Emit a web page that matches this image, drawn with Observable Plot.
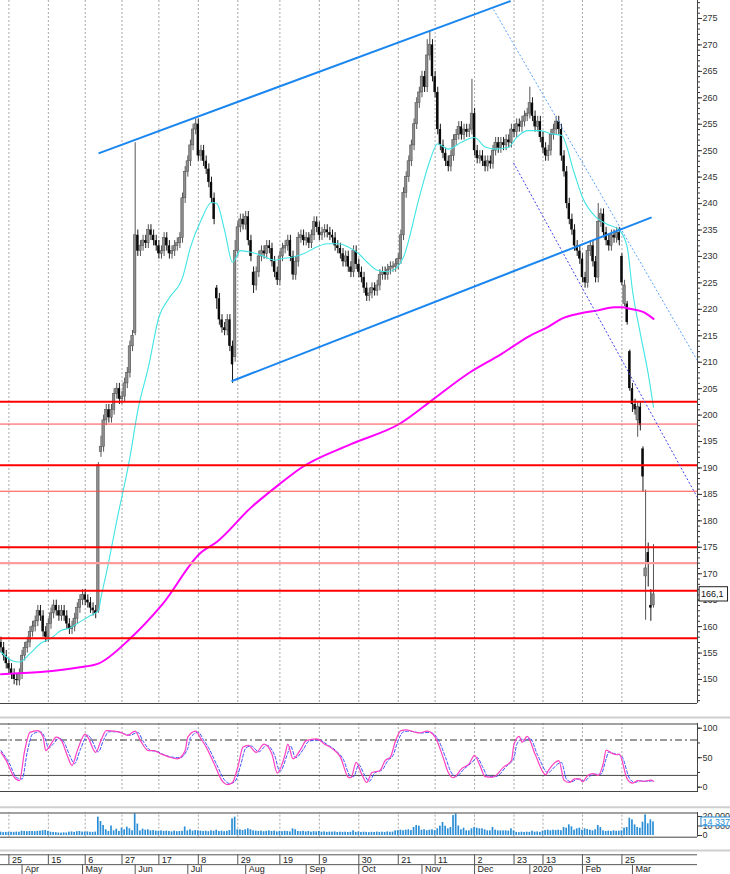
<!DOCTYPE html>
<html><head><meta charset="utf-8">
<script src="https://cdn.jsdelivr.net/npm/d3@7"></script>
<script src="https://cdn.jsdelivr.net/npm/@observablehq/plot@0.6"></script>
<style>
body{margin:0;background:#fff;}
#chart{position:relative;width:730px;height:874px;overflow:hidden;background:#fff;}
#chart svg{position:absolute;left:0;}
</style></head><body><div id="chart"></div>
<script>
// ---------- DATA (daily bars, index 0 = 20 Mar 2019 ... 248 = 13 Mar 2020) ----------
const firstOpen = 157;
const close = [
156,154.5,153,152,151,150,149.8,151,154.5,156,
157,159,160,161,163,162,159,158,160.5,162.5,
164,163,162,163,162,160.5,159.5,160,161.5,163.5,
165,166,165,164.5,163.5,163,162.5,190.5,194,199,
201,199.5,201,204,205,203,203.5,206,208,213,
215,234,231,232,233,232.5,235,234,233,232,
230.5,231,233.5,232,230.5,231,232,232.5,233.5,241,
246,248,251,254,255,249,250,248,246.5,244,
241,237,222,218,216.5,216,218,213,209.5,231,
235.5,237,236,237.5,233,230,224.5,227,230,231,
230.5,232,231.5,229,227,225.5,230,231.5,232,233,
230,226.5,229,233.5,234,233,233.5,232.5,234,236.5,
235.5,234,234.5,235,234.5,234,233.5,232,231.5,230.5,
229,230,228,227,231,228.5,227,226,224,222.5,
223,224,223.5,224.5,226.5,227,226.5,227.5,228,228,
228.5,229.5,234,242,245,248,251,255,259,261,
264,262,268,270,264,261,254,251,249.5,248,
247,249,252,253,254.5,253,254,253.5,254,257,
250,248.5,249,248,247,248,247.5,250,251.5,250.5,
251.5,251,252,251.5,254,253.5,255,254.5,255.5,256.5,
257,259,256.5,254.5,255.5,252.5,250.5,249,250,253,
254,255.5,254,249,246,240,237,235,232,231,
229.5,226,225,231,232,229,226,236.5,238,234.5,
233,232,234,233.5,234.5,233,225,224.5,217.5,205,
202,201,201.5,198,188.3,171,172,163.5,166.1
];
// [index, open, high, low] for bars with gaps / long shadows (null = default)
const overrides = [
[37,163,191,162.5],[38,193,196,192],[51,215.5,251.5,215],[82,224,224.5,220],
[88,null,null,206],[89,211,233,null],[96,227,null,223],[162,null,271,null],[163,null,272.7,null],
[179,null,263.5,null],[201,null,262,null],[227,null,240,null],[236,230,230.5,224.5],
[237,221,225.5,220.5],[238,221,221.5,217],[239,212,212.3,204.5],[240,null,null,200.5],
[242,199,null,195.8],[244,193.6,194,185.4],[245,169.5,185.8,161.2],[246,174,175.8,167.5],
[247,164,167,161],[248,164,175.5,163.5]
];
const wick = 1.0;
// volume, millions of shares
const volume = [
3.5,3.0,3.3,3.1,3.4,3.3,3.6,3.4,4.5,4.2,
4.0,4.3,4.2,4.0,4.4,4.6,5.0,5.2,4.3,3.5,
3.2,3.0,2.6,2.5,2.8,2.6,3.5,3.8,3.3,4.0,
4.2,3.6,3.5,3.8,3.4,3.3,3.6,19.3,14.7,10.5,
6.0,4.2,10.0,4.9,6.7,4.2,7.7,6.0,8.8,7.0,
5.0,22.8,12.0,4.9,6.7,5.6,6.0,4.9,5.2,4.6,
4.4,4.9,4.2,4.6,4.2,3.8,4.6,4.0,4.2,4.5,
9.0,4.9,6.0,4.6,5.2,4.9,4.6,4.2,4.5,4.0,
4.9,4.4,5.6,4.2,4.6,4.0,4.4,5.2,17.5,19.3,
6.0,6.0,5.2,6.0,7.0,6.0,4.9,4.6,4.2,4.6,
4.0,4.4,4.9,4.2,4.6,3.8,4.2,4.0,4.4,4.2,
3.8,7.0,6.0,4.2,4.0,4.4,3.8,4.2,3.5,4.0,
3.8,4.2,3.5,3.8,3.3,3.6,3.5,3.8,3.2,3.5,
3.3,3.5,3.2,3.4,4.9,3.3,3.6,3.2,3.5,3.3,
3.0,3.4,3.2,3.6,3.3,3.5,3.2,3.8,3.4,3.6,
4.9,5.2,5.6,5.0,5.6,6.0,5.2,8.4,10.5,9.8,
5.6,6.0,5.0,5.6,6.0,5.2,7.0,9.8,13.7,9.8,
7.0,8.4,21.0,22.8,10.0,6.0,7.7,4.9,4.9,7.0,
8.4,7.7,7.0,7.0,6.0,4.9,4.9,8.4,5.6,4.9,
4.9,4.9,4.9,4.6,7.0,4.9,3.3,3.0,3.5,3.2,
3.5,3.3,4.5,3.5,3.8,3.3,4.6,5.2,5.6,5.0,
5.6,5.2,5.6,5.0,8.4,7.7,11.2,9.1,5.6,7.0,
7.7,5.6,7.0,6.3,5.6,4.9,6.0,10.5,8.4,4.9,
4.2,4.6,4.2,4.9,4.4,4.6,4.9,7.7,8.4,18.2,
16.5,11.2,8.4,7.7,14.0,21.7,12.3,16.5,14.3374
];
// moving averages read as [index, value]
const cyanMA = [[0,155.2],[4,153.6],[7,153.3],[11,154.9],[15,156.8],[19,157.8],[23,159.3],[26,159.7],[30,160.9],[34,162.1],[37,163],[38,165.5],[40,170],[44,180],[49,192],[52,200.9],[56,209],[60,218.5],[64,222.2],[69,226],[72,231.7],[76,236.8],[80,240.2],[82,240],[85,234.9],[88,228.9],[91,231.1],[95,230.8],[99,230.2],[104,229.3],[107,229.6],[111,229.9],[115,230.5],[120,231.8],[124,232.4],[128,232.4],[132,231.8],[136,230.5],[139,229],[143,227.4],[147,227.1],[150,227.7],[153,229.9],[159,241.2],[163,248.1],[166,251.3],[170,250.3],[175,251.6],[180,252.5],[184,250.7],[188,250.3],[193,250.7],[196,252.5],[200,253.8],[205,253.8],[209,253.2],[213,252.9],[218,245.6],[221,241.2],[226,237.5],[230,236.2],[235,235],[238,231.8],[240,223.6],[243,215.4],[246,207.8],[248,201.5]];
const magentaMA = [[0,151],[15,151.4],[30,152.3],[37,153],[49,157.7],[61,164],[76,174],[82,176],[95,182.5],[106,187],[114,190],[133,194.5],[152,198.5],[163,202.5],[178,208],[190,211.5],[201,215],[208,216.7],[213,218.2],[220,219.2],[227,219.8],[233,220.4],[236,220.4],[239,220.1],[244,219.5],[248,218.2]];
// stochastic %K (solid) and %D (dashed)
const stochK = [[0,59],[2,45],[5,17],[7,11],[9,62],[11,93],[14,96],[16,85],[17,62],[19,73],[21,85],[23,79],[25,56],[27,37],[29,62],[32,90],[33,85],[36,59],[38,79],[40,96],[43,95],[46,92],[48,88],[51,95],[53,79],[56,62],[58,62],[61,56],[64,51],[67,48],[70,62],[71,85],[74,95],[76,82],[78,68],[81,40],[84,11],[86,4.5],[88,8],[90,34],[92,68],[94,71],[97,59],[100,73],[103,56],[105,24],[108,56],[109,73],[111,48],[114,65],[116,79],[120,82],[123,73],[126,65],[129,51],[132,17],[133,16],[135,42],[137,23],[139,8],[141,25],[144,28],[146,45],[148,51],[150,79],[152,96],[154,97],[159,92],[162,95],[165,85],[168,51],[170,25],[172,16],[175,31],[178,40],[180,54],[182,37],[184,18],[187,17],[191,34],[194,45],[195,73],[197,86],[198,76],[200,86],[203,56],[207,21],[208,28],[212,45],[214,12],[216,8],[218,14],[220,14],[221,9],[223,20],[225,23],[227,20],[229,42],[230,63],[232,58],[234,55],[235,56],[238,14],[240,7],[242,11],[244,10],[247,12],[248,10]];
const stochD = [[0,62],[3,42],[6,16],[8,14],[10,60],[12,90],[15,94],[17,80],[18,66],[20,74],[22,83],[24,76],[26,55],[28,40],[30,62],[33,88],[34,84],[37,60],[39,80],[41,94],[44,94],[47,90],[49,88],[52,93],[54,78],[57,62],[59,61],[62,55],[65,51],[68,50],[71,66],[72,84],[75,93],[77,80],[79,66],[82,38],[85,12],[87,6],[89,10],[91,36],[93,66],[95,70],[98,60],[101,71],[104,54],[106,27],[109,58],[110,70],[112,50],[115,65],[117,78],[121,80],[124,72],[127,63],[130,48],[133,18],[134,18],[136,38],[138,22],[140,10],[142,24],[145,30],[147,45],[149,54],[151,80],[153,94],[155,95],[160,92],[163,93],[166,82],[169,50],[171,26],[173,18],[176,31],[179,42],[181,50],[183,35],[185,19],[188,18],[192,35],[195,50],[196,72],[198,82],[199,78],[201,83],[204,54],[208,24],[209,28],[213,42],[215,13],[217,9],[219,14],[221,11],[222,11],[224,19],[226,22],[228,22],[230,48],[231,60],[233,57],[235,55],[236,52],[239,14],[241,8],[243,11],[245,10],[248,11]];
// horizontal support / resistance levels
const levelsThick = [202.5, 190.5, 175, 166.8, 157.8];
const levelsThin = [198.3, 185.6];
const levelsPink = [172];
// trend lines [index1, price1, index2, price2]
const trendSolid = [[37.06,249.5,193.7,278.3],[87.6,206.4,247.3,237.4]];
const trendDottedLight = [[187.2,276.7,264.7,210.3]];
const trendDottedDark = [[194.8,247.7,264.7,184.4]];
// time axis
const tickIdx = [3,18,32,46,60,75,90,106,121,136,151,165,180,195,206,221,236];
const tickLabels = ["25","15","6","27","17","8","29","19","9","30","21","11","2","23","13","3","25"];
const monthIdx = [8,31,51,71,93,116,136,160,180,201,221,240];
const monthLabels = ["Apr","May","Jun","Jul","Aug","Sep","Oct","Nov","Dec","2020","Feb","Mar"];

// ---------- LAYOUT ----------
const W = 730, plotRight = 697, pxPerBar = 2.631, x0px = 0.5;
const xDomain = [(0 - x0px) / pxPerBar, (plotRight - x0px) / pxPerBar];
const xEdge = (W - x0px) / pxPerBar;
const priceDomain = [145.46, 278.40];
const font = "'Liberation Sans', Arial, sans-serif";
const baseStyle = {background: "transparent", fontFamily: font, fontSize: "9px", color: "#333"};
const sepColor = "#cfcfcf", gridColor = "#a8a8a8", borderColor = "#444";
const halfBody = 0.46;

const ovMap = new Map(overrides.map(o => [o[0], o]));
const bars = close.map((c, j) => {
  const ov = ovMap.get(j) || [];
  const o = ov[1] ?? (j ? close[j - 1] : firstOpen);
  const hi = ov[2] ?? Math.max(o, c) + wick;
  const lo = ov[3] ?? Math.min(o, c) - wick;
  let b1 = Math.min(o, c), b2 = Math.max(o, c);
  if (b2 - b1 < 0.2) { const m = (b1 + b2) / 2; b1 = m - 0.1; b2 = m + 0.1; }
  return {j, o, c, hi, lo, b1, b2, up: c >= o};
});
const lastClose = close[close.length - 1];
const lastVol = volume[volume.length - 1];
const loc = d3.formatLocale({decimal: ",", thousands: " ", grouping: [3], currency: ["", ""]});
const fmtInt = loc.format(",d");
const fmtDec = loc.format(".1f");
const P = d => d[0], V = d => d[1];

const chart = document.getElementById("chart");
function place(svg, top) { svg.style.top = top + "px"; chart.appendChild(svg); }

// ---------- MAIN PRICE PANEL ----------
const mainPlot = Plot.plot({
  width: W, height: 704, marginLeft: 0, marginRight: W - plotRight, marginTop: 0, marginBottom: 1,
  x: {domain: xDomain, axis: null},
  y: {domain: priceDomain},
  style: {...baseStyle, background: "white"},
  marks: [
    Plot.ruleX(tickIdx, {stroke: gridColor, strokeDasharray: "2,2"}),
    Plot.ruleX(bars.filter(d => d.up), {x: "j", y1: "lo", y2: "hi", stroke: "#555", strokeWidth: 1}),
    Plot.ruleX(bars.filter(d => !d.up), {x: "j", y1: "lo", y2: "hi", stroke: "#1a1a1a", strokeWidth: 1}),
    Plot.rect(bars.filter(d => d.up), {x1: d => d.j - halfBody, x2: d => d.j + halfBody, y1: "b1", y2: "b2", fill: "#8e8e8e", stroke: "#555", strokeWidth: 0.6}),
    Plot.rect(bars.filter(d => !d.up), {x1: d => d.j - halfBody, x2: d => d.j + halfBody, y1: "b1", y2: "b2", fill: "#0a0a0a"}),
    Plot.line(cyanMA, {x: P, y: V, stroke: "#40e4e4", strokeWidth: 1.1, curve: "monotone-x"}),
    Plot.line(magentaMA, {x: P, y: V, stroke: "#ff00ff", strokeWidth: 2, curve: "monotone-x"}),
    Plot.ruleY(levelsPink, {stroke: "#ff9c9c", strokeWidth: 2.2}),
    Plot.ruleY(levelsThin, {stroke: "#ff4a4a", strokeWidth: 1}),
    Plot.ruleY(levelsThick, {stroke: "#ff0000", strokeWidth: 2}),
    Plot.link(trendDottedLight, {x1: d => d[0], y1: d => d[1], x2: d => d[2], y2: d => d[3], stroke: "#5aa2ff", strokeWidth: 1, strokeDasharray: "2,2", clip: true}),
    Plot.link(trendDottedDark, {x1: d => d[0], y1: d => d[1], x2: d => d[2], y2: d => d[3], stroke: "#4040f0", strokeWidth: 1, strokeDasharray: "2,2", clip: true}),
    Plot.link(trendSolid, {x1: d => d[0], y1: d => d[1], x2: d => d[2], y2: d => d[3], stroke: "#1a86f0", strokeWidth: 2, clip: true}),
    Plot.ruleX([xDomain[1]], {stroke: borderColor}),
    Plot.ruleY([priceDomain[0]], {stroke: borderColor}),
    Plot.axisY(d3.range(146, 279), {anchor: "right", tickSize: 2, tickFormat: () => "", label: null}),
    Plot.axisY(d3.range(150, 276, 5), {anchor: "right", tickSize: 4, tickPadding: 1, label: null}),
    Plot.rect([lastClose], {x1: () => xDomain[1] + 0.8, x2: () => xDomain[1] + 11.6, y1: d => d - 1.35, y2: d => d + 1.35, fill: "white", stroke: "#222"}),
    Plot.text([lastClose], {x: () => xDomain[1] + 1.3, y: d => d, text: d => fmtDec(d), textAnchor: "start", fill: "#111"})
  ]
});
place(mainPlot, 0);

// ---------- STOCHASTIC PANEL ----------
const stochDomain = [-8.98, 107.97];
const stochPlot = Plot.plot({
  width: W, height: 88, marginLeft: 0, marginRight: W - plotRight, marginTop: 19, marginBottom: 0,
  x: {domain: xDomain, axis: null},
  y: {domain: stochDomain},
  style: baseStyle,
  marks: [
    Plot.ruleY([stochDomain[1]], {x1: () => xDomain[0], x2: () => xEdge, dy: -6, stroke: sepColor, strokeWidth: 2}),
    Plot.ruleX(tickIdx, {stroke: gridColor, strokeDasharray: "2,2"}),
    Plot.ruleY([80], {stroke: "#333", strokeDasharray: "7,3,2,3"}),
    Plot.ruleY([20], {stroke: "#444"}),
    Plot.line(stochD, {x: P, y: V, stroke: "#3c50ff", strokeWidth: 1, strokeDasharray: "3,2", curve: "monotone-x"}),
    Plot.line(stochK, {x: P, y: V, stroke: "#ff40c0", strokeWidth: 1.2, curve: "monotone-x"}),
    Plot.ruleY([stochDomain[1]], {dy: 0.5, stroke: borderColor}),
    Plot.ruleY([stochDomain[0]], {dy: -1, stroke: borderColor}),
    Plot.ruleX([xDomain[1]], {stroke: borderColor}),
    Plot.axisY([0, 25, 50, 75, 100], {anchor: "right", tickSize: 2, tickFormat: () => "", label: null}),
    Plot.axisY([0, 50, 100], {anchor: "right", tickSize: 4, tickPadding: 1, label: null})
  ]
});
place(stochPlot, 704);

// ---------- VOLUME PANEL ----------
const volDomain = [-3.16, 24.21];
const volBottom = -1.79;
const volPlot = Plot.plot({
  width: W, height: 46, marginLeft: 0, marginRight: W - plotRight, marginTop: 20, marginBottom: 0,
  x: {domain: xDomain, axis: null},
  y: {domain: volDomain},
  style: baseStyle,
  marks: [
    Plot.ruleY([volDomain[1]], {x1: () => xDomain[0], x2: () => xEdge, dy: -5.3, stroke: sepColor, strokeWidth: 2}),
    Plot.ruleX(tickIdx, {y1: volBottom, y2: volDomain[1], stroke: gridColor, strokeDasharray: "2,2"}),
    Plot.rect(volume, {x1: (d, i) => i - 0.32, x2: (d, i) => i + 0.32, y1: 0, y2: d => d, fill: "#2a8ed6"}),
    Plot.ruleY([volDomain[1]], {dy: 0.5, stroke: borderColor}),
    Plot.ruleY([volBottom], {stroke: borderColor}),
    Plot.ruleX([xDomain[1]], {y1: volBottom, y2: volDomain[1], stroke: borderColor}),
    Plot.axisY([0, 10, 20], {anchor: "right", tickSize: 4, tickPadding: 1, tickFormat: d => fmtInt(d * 1e6), label: null}),
    Plot.rect([lastVol], {x1: () => xDomain[1] + 1.5, x2: () => xDomain[1] + 14, y1: d => d - 4.6, y2: d => d + 4.6, fill: "white", stroke: "#2a8ed6"}),
    Plot.text([lastVol], {x: () => xDomain[1] + 1.9, y: d => d, text: d => fmtInt(Math.round(d * 1e6)), textAnchor: "start", fill: "#2a8ed6"})
  ]
});
place(volPlot, 792);

// ---------- DATE AXIS ----------
const datePlot = Plot.plot({
  width: W, height: 36, marginLeft: 0, marginRight: W - plotRight, marginTop: 16.3, marginBottom: 0,
  x: {domain: xDomain, axis: null},
  y: {domain: [0, 2], reverse: true, axis: null},
  style: baseStyle,
  marks: [
    Plot.ruleY([0], {x1: () => xDomain[0], x2: () => xEdge, dy: -4.3, stroke: sepColor, strokeWidth: 2}),
    Plot.ruleY([0, 1], {stroke: "#555"}),
    Plot.ruleX(tickIdx, {y1: () => 0, y2: () => 1, stroke: "#555"}),
    Plot.ruleX(monthIdx, {y1: () => 1, y2: () => 2, stroke: "#555"}),
    Plot.text(tickIdx, {x: d => d, y: () => 0.5, text: (d, i) => tickLabels[i], textAnchor: "start", dx: 3, fill: "#222"}),
    Plot.text(monthIdx, {x: d => d, y: () => 1.5, text: (d, i) => monthLabels[i], textAnchor: "start", dx: 3, fill: "#222"})
  ]
});
place(datePlot, 838);
</script></body></html>
